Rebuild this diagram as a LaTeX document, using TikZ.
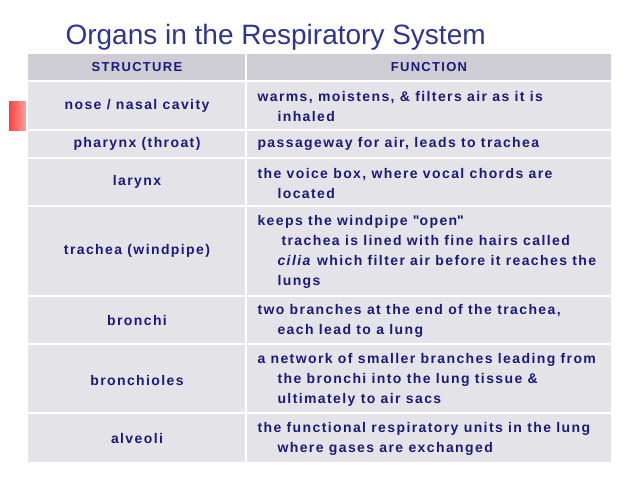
\documentclass[tikz,border=0pt]{standalone}
\usepackage{fontspec}
\setmainfont{Liberation Sans}
\newfontfamily\tablefont[LetterSpace=10]{Liberation Sans}
\definecolor{navy}{HTML}{1A1A7A}
\definecolor{titleblue}{HTML}{2E3590}
\definecolor{headgray}{HTML}{CDCDD3}
\definecolor{rowgray}{HTML}{E4E4E8}
\tikzset{
  cell/.style={fill=rowgray,draw=white,line width=1.2pt},
  head/.style={fill=headgray,draw=white,line width=1.2pt},
  lefttxt/.style={font=\tablefont\bfseries\fontsize{14}{16}\selectfont,text=navy,anchor=center},
  righttxt/.style={font=\tablefont\bfseries\fontsize{14}{20}\selectfont,text=navy,anchor=west,align=left}
}
\begin{document}
\begin{tikzpicture}[x=1pt,y=-1pt]
  \useasboundingbox (0,0) rectangle (638,479);

  % titel
  \node[anchor=west,font=\fontsize{28}{32}\selectfont,text=titleblue] (title) at (62,37) {Organs in the Respiratory System};

  % rood blokje
  \shade[left color=red!75,right color=red!35] (9,101) rectangle (27,130);

  % kop
  \draw[head] (27,53) rectangle (246,81);
  \draw[head] (246,53) rectangle (612,81);
  \node[lefttxt,font=\tablefont\bfseries\fontsize{13}{15}\selectfont] (structure) at (137,67.5) {STRUCTURE};
  \node[lefttxt,font=\tablefont\bfseries\fontsize{13}{15}\selectfont] (function) at (429,67.5) {FUNCTION};

  % rijen
  \foreach \ya/\yb in {81/130,130/158,158/206,206/296,296/344,344/413,413/463} {
    \draw[cell] (27,\ya) rectangle (246,\yb);
    \draw[cell] (246,\ya) rectangle (612,\yb);
  }

  \node[lefttxt] (nose) at (137,105.5) {nose / nasal cavity};
  \node[lefttxt] (pharynx) at (137,144) {pharynx (throat)};
  \node[lefttxt] (larynx) at (137,182) {larynx};
  \node[lefttxt] (trachea) at (137,251) {trachea (windpipe)};
  \node[lefttxt] (bronchi) at (137,320) {bronchi};
  \node[lefttxt] (bronchioles) at (137,380) {bronchioles};
  \node[lefttxt] (alveoli) at (137,438) {alveoli};

  \node[righttxt] (noseF) at (254,106) {warms, moistens, \& filters air as it is\\\hspace*{20pt}inhaled};
  \node[righttxt] (pharynxF) at (254,144) {passageway for air, leads to trachea};
  \node[righttxt] (larynxF) at (254,183) {the voice box, where vocal chords are\\\hspace*{20pt}located};
  \node[righttxt] (tracheaF) at (254,252) {keeps the windpipe \textquotedbl open\textquotedbl\\\hspace*{24pt}trachea is lined with fine hairs called\\\hspace*{20pt}\textit{cilia} which filter air before it reaches the\\\hspace*{20pt}lungs};
  \node[righttxt] (bronchiF) at (254,321) {two branches at the end of the trachea,\\\hspace*{20pt}each lead to a lung};
  \node[righttxt] (bronchiolesF) at (254,380) {a network of smaller branches leading from\\\hspace*{20pt}the bronchi into the lung tissue \&\\\hspace*{20pt}ultimately to air sacs};
  \node[righttxt] (alveoliF) at (254,439) {the functional respiratory units in the lung\\\hspace*{20pt}where gases are exchanged};
\end{tikzpicture}
\end{document}
